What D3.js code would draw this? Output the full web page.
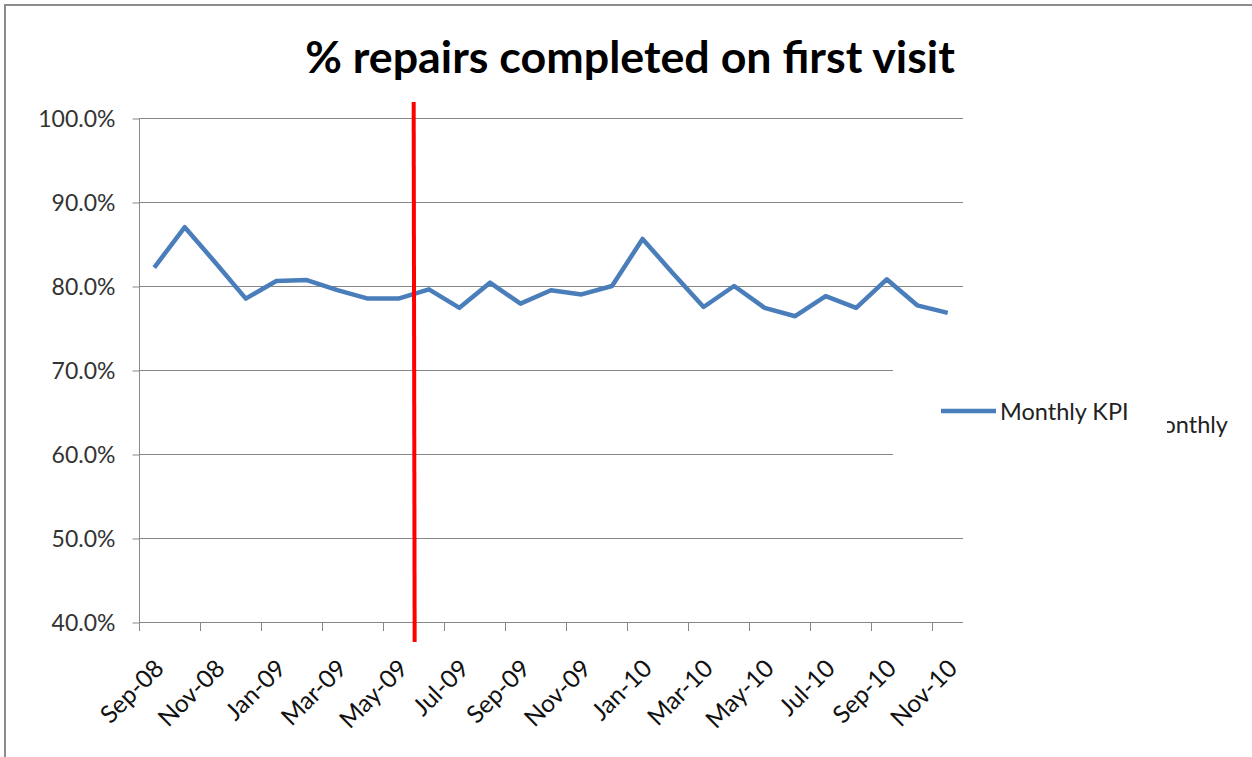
<!DOCTYPE html>
<html>
<head>
<meta charset="utf-8">
<script src="https://cdn.jsdelivr.net/npm/d3@7"></script>
<style>
  html, body { margin: 0; padding: 0; background: #fff; }
  svg { display: block; }
</style>
</head>
<body>
<svg id="chart" width="1252" height="757"></svg>
<script>
// ---------- data ----------
const categories = ["Sep-08","Oct-08","Nov-08","Dec-08","Jan-09","Feb-09","Mar-09","Apr-09","May-09","Jun-09","Jul-09","Aug-09","Sep-09","Oct-09","Nov-09","Dec-09","Jan-10","Feb-10","Mar-10","Apr-10","May-10","Jun-10","Jul-10","Aug-10","Sep-10","Oct-10","Nov-10"];
const monthlyKPI = [0.822,0.870,0.828,0.785,0.806,0.807,0.795,0.785,0.785,0.796,0.774,0.804,0.779,0.795,0.790,0.800,0.856,0.815,0.775,0.800,0.774,0.764,0.788,0.774,0.808,0.777,0.768];
const tickLabels = ["Sep-08","Nov-08","Jan-09","Mar-09","May-09","Jul-09","Sep-09","Nov-09","Jan-10","Mar-10","May-10","Jul-10","Sep-10","Nov-10"];
const yTicks = [0.4,0.5,0.6,0.7,0.8,0.9,1.0];
const markerCategory = "Jun-09";
const seriesName = "Monthly KPI";
const titleText = "% repairs completed on first visit";

// ---------- layout ----------
const svg = d3.select("#chart");
const plot = {left: 139, right: 963, top: 118, bottom: 622};
const FONT = "Lato, 'Open Sans', sans-serif";

const x = d3.scaleBand().domain(categories).range([plot.left, plot.right]).padding(0);
const y = d3.scaleLinear().domain([0.4, 1.0]).range([plot.bottom, plot.top]);
const cx = c => x(c) + x.bandwidth() / 2;

// outer border
svg.append("rect").attr("x", 5).attr("y", 5).attr("width", 1300).attr("height", 800)
  .attr("fill", "none").attr("stroke", "#8c8c8c").attr("stroke-width", 2);

// gridlines
svg.append("g").selectAll("line").data(yTicks).join("line")
  .attr("x1", plot.left).attr("x2", plot.right)
  .attr("y1", d => Math.round(y(d)) + 0.5).attr("y2", d => Math.round(y(d)) + 0.5)
  .attr("stroke", "#878787").attr("stroke-width", 1);

// y axis
const yAxis = d3.axisLeft(y).tickValues(yTicks).tickFormat(d3.format(".1%")).tickSize(7).tickPadding(17);
const gy = svg.append("g").attr("transform", `translate(${plot.left + 0.5},0.5)`).call(yAxis);
gy.select(".domain").attr("stroke", "#878787").attr("d", `M0,${plot.top}V${plot.bottom}`);
gy.selectAll(".tick line").attr("stroke", "#878787");
gy.selectAll(".tick text").attr("font-family", FONT).attr("font-size", 23).attr("fill", "#333").attr("dy", "0.35em");

// x axis: ticks at band starts every 2 categories
const tickCats = categories.filter((c, i) => i % 2 === 0);
const gx = svg.append("g");
gx.append("line").attr("x1", plot.left).attr("x2", plot.right)
  .attr("y1", plot.bottom + 0.5).attr("y2", plot.bottom + 0.5).attr("stroke", "#878787");
gx.selectAll("line.tk").data(tickCats).join("line").attr("class", "tk")
  .attr("x1", d => Math.round(x(d)) + 0.5).attr("x2", d => Math.round(x(d)) + 0.5)
  .attr("y1", plot.bottom).attr("y2", plot.bottom + 9).attr("stroke", "#878787");
gx.selectAll("text").data(tickLabels).join("text")
  .attr("transform", d => `translate(${cx(d) + 11},${plot.bottom + 48}) rotate(-45)`)
  .attr("text-anchor", "end")
  .attr("font-family", FONT).attr("font-size", 24.5).attr("fill", "#111")
  .text(d => d);

// series line
const line = d3.line().x((d, i) => cx(categories[i])).y(d => y(d));
svg.append("path").datum(monthlyKPI).attr("d", line)
  .attr("fill", "none").attr("stroke", "#4a7ebb").attr("stroke-width", 4.5)
  .attr("stroke-linejoin", "round");

// red marker line
svg.append("line")
  .attr("x1", x(markerCategory)).attr("x2", x(markerCategory) + 1)
  .attr("y1", 102).attr("y2", 642)
  .attr("stroke", "#ff0000").attr("stroke-width", 4);

// legend (white box covering part of grid)
svg.append("rect").attr("x", 893).attr("y", 340).attr("width", 100).attr("height", 160).attr("fill", "#fff");
svg.append("line").attr("x1", 941).attr("x2", 996).attr("y1", 411).attr("y2", 411)
  .attr("stroke", "#4a7ebb").attr("stroke-width", 4.5);
svg.append("text").attr("x", 1000).attr("y", 420)
  .attr("font-family", FONT).attr("font-size", 23.5).attr("fill", "#222").text(seriesName);

// truncated stray legend text
svg.append("clipPath").attr("id", "strayClip").append("rect")
  .attr("x", 1167).attr("y", 395).attr("width", 100).attr("height", 50);
svg.append("text").attr("x", 1228).attr("y", 433).attr("text-anchor", "end")
  .attr("clip-path", "url(#strayClip)")
  .attr("font-family", FONT).attr("font-size", 23.5).attr("fill", "#222").text("Monthly");

// title
const title = svg.append("text").attr("x", 630).attr("y", 73).attr("text-anchor", "middle")
  .attr("font-family", FONT).attr("font-weight", "bold").attr("font-size", 40).attr("fill", "#000")
  .text(titleText);
const tw = title.node().getComputedTextLength();
title.attr("font-size", 40 * 650 / tw);
</script>
</body>
</html>
